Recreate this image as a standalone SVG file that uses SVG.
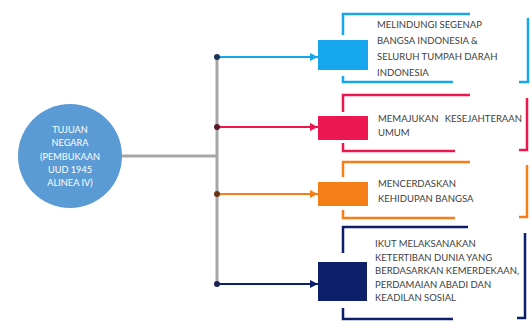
<svg xmlns="http://www.w3.org/2000/svg" width="532" height="329" viewBox="0 0 532 329">
  <defs>
    <style>
      .trunk { stroke: #A6A6A6; stroke-width: 3; fill: none; }
      .arm { stroke-width: 2; fill: none; }
      .brk { stroke-width: 2.5; fill: none; }
      .lbl { font-family: Lato, "Open Sans", "Liberation Sans", sans-serif; font-size: 9.5px; fill: #404040; }
      .hub { font-family: Lato, "Open Sans", "Liberation Sans", sans-serif; font-size: 9.2px; fill: #FFFFFF; text-anchor: middle; }
      .c1 { stroke: #16A6EE; } .f1 { fill: #16A6EE; }
      .c2 { stroke: #EC1651; } .f2 { fill: #EC1651; }
      .c3 { stroke: #F57E17; } .f3 { fill: #F57E17; }
      .c4 { stroke: #0D1F6B; } .f4 { fill: #0D1F6B; }
    </style>
    <marker id="ah1" viewBox="0 0 8 8" refX="8" refY="4" markerWidth="4" markerHeight="4" orient="auto" markerUnits="strokeWidth"><path d="M0,0 L8,4 L0,8 z" fill="#16A6EE"/></marker>
    <marker id="ah2" viewBox="0 0 8 8" refX="8" refY="4" markerWidth="4" markerHeight="4" orient="auto" markerUnits="strokeWidth"><path d="M0,0 L8,4 L0,8 z" fill="#EC1651"/></marker>
    <marker id="ah3" viewBox="0 0 8 8" refX="8" refY="4" markerWidth="4" markerHeight="4" orient="auto" markerUnits="strokeWidth"><path d="M0,0 L8,4 L0,8 z" fill="#F57E17"/></marker>
    <marker id="ah4" viewBox="0 0 8 8" refX="8" refY="4" markerWidth="4" markerHeight="4" orient="auto" markerUnits="strokeWidth"><path d="M0,0 L8,4 L0,8 z" fill="#0D1F6B"/></marker>
  </defs>

  <rect width="532" height="329" fill="#FFFFFF"/>

  <!-- connectors: trunk and four branches -->
  <g id="connectors">
    <line class="trunk" x1="120" y1="156" x2="217" y2="156"/>
    <line class="trunk" x1="217" y1="57" x2="217" y2="284"/>
    <line class="arm c1" x1="217" y1="57" x2="318" y2="57" marker-end="url(#ah1)"/>
    <line class="arm c2" x1="217" y1="127" x2="318" y2="127" marker-end="url(#ah2)"/>
    <line class="arm c3" x1="217" y1="194" x2="318" y2="194" marker-end="url(#ah3)"/>
    <line class="arm c4" x1="217" y1="284" x2="318" y2="284" marker-end="url(#ah4)"/>
    <circle cx="217" cy="57" r="3" fill="#1B3552"/>
    <circle cx="217" cy="127" r="3" fill="#5A1A2A"/>
    <circle cx="217" cy="194" r="3" fill="#6A3416"/>
    <circle cx="217" cy="284" r="3" fill="#1C2352"/>
  </g>

  <!-- central goal -->
  <g id="hub">
    <circle cx="70" cy="156" r="52" fill="#5B9BD5"/>
    <text class="hub" x="70" y="133">TUJUAN</text>
    <text class="hub" x="70" y="146">NEGARA</text>
    <text class="hub" x="70" y="160">(PEMBUKAAN</text>
    <text class="hub" x="70" y="173">UUD 1945</text>
    <text class="hub" x="70" y="186">ALINEA IV)</text>
  </g>

  <!-- goal 1 -->
  <g id="goal1">
    <path class="brk c1" d="M470,14 H343 V35 M343,76 V82 H453"/>
    <path class="brk c1" d="M528,18 V82 H519"/>
    <rect class="f1" x="318" y="40" width="50" height="30"/>
    <text class="lbl" x="377" y="28">MELINDUNGI SEGENAP</text>
    <text class="lbl" x="377" y="44">BANGSA INDONESIA &amp;</text>
    <text class="lbl" x="377" y="60">SELURUH TUMPAH DARAH</text>
    <text class="lbl" x="377" y="76">INDONESIA</text>
  </g>

  <!-- goal 2 -->
  <g id="goal2">
    <path class="brk c2" d="M470,95 H343 V112 M343,143 V151 H455"/>
    <path class="brk c2" d="M527,98 V150 H519"/>
    <rect class="f2" x="318" y="116" width="50" height="24"/>
    <text class="lbl" x="378" y="122">MEMAJUKAN</text>
    <text class="lbl" x="522" y="122" text-anchor="end">KESEJAHTERAAN</text>
    <text class="lbl" x="378" y="136">UMUM</text>
  </g>

  <!-- goal 3 -->
  <g id="goal3">
    <path class="brk c3" d="M470,162 H343 V177 M343,210 V218 H455"/>
    <path class="brk c3" d="M527,165 V217 H519"/>
    <rect class="f3" x="318" y="182" width="50" height="24"/>
    <text class="lbl" x="378" y="187">MENCERDASKAN</text>
    <text class="lbl" x="378" y="202">KEHIDUPAN BANGSA</text>
  </g>

  <!-- goal 4 -->
  <g id="goal4">
    <path class="brk c4" d="M468,227 H343 V253 M343,308 V319 H453"/>
    <path class="brk c4" d="M525,233 V318 H517"/>
    <rect class="f4" x="318" y="262" width="49" height="39"/>
    <text class="lbl" x="375" y="247">IKUT MELAKSANAKAN</text>
    <text class="lbl" x="375" y="261">KETERTIBAN DUNIA YANG</text>
    <text class="lbl" x="375" y="274">BERDASARKAN KEMERDEKAAN,</text>
    <text class="lbl" x="375" y="288">PERDAMAIAN ABADI DAN</text>
    <text class="lbl" x="375" y="301">KEADILAN SOSIAL</text>
  </g>
</svg>
